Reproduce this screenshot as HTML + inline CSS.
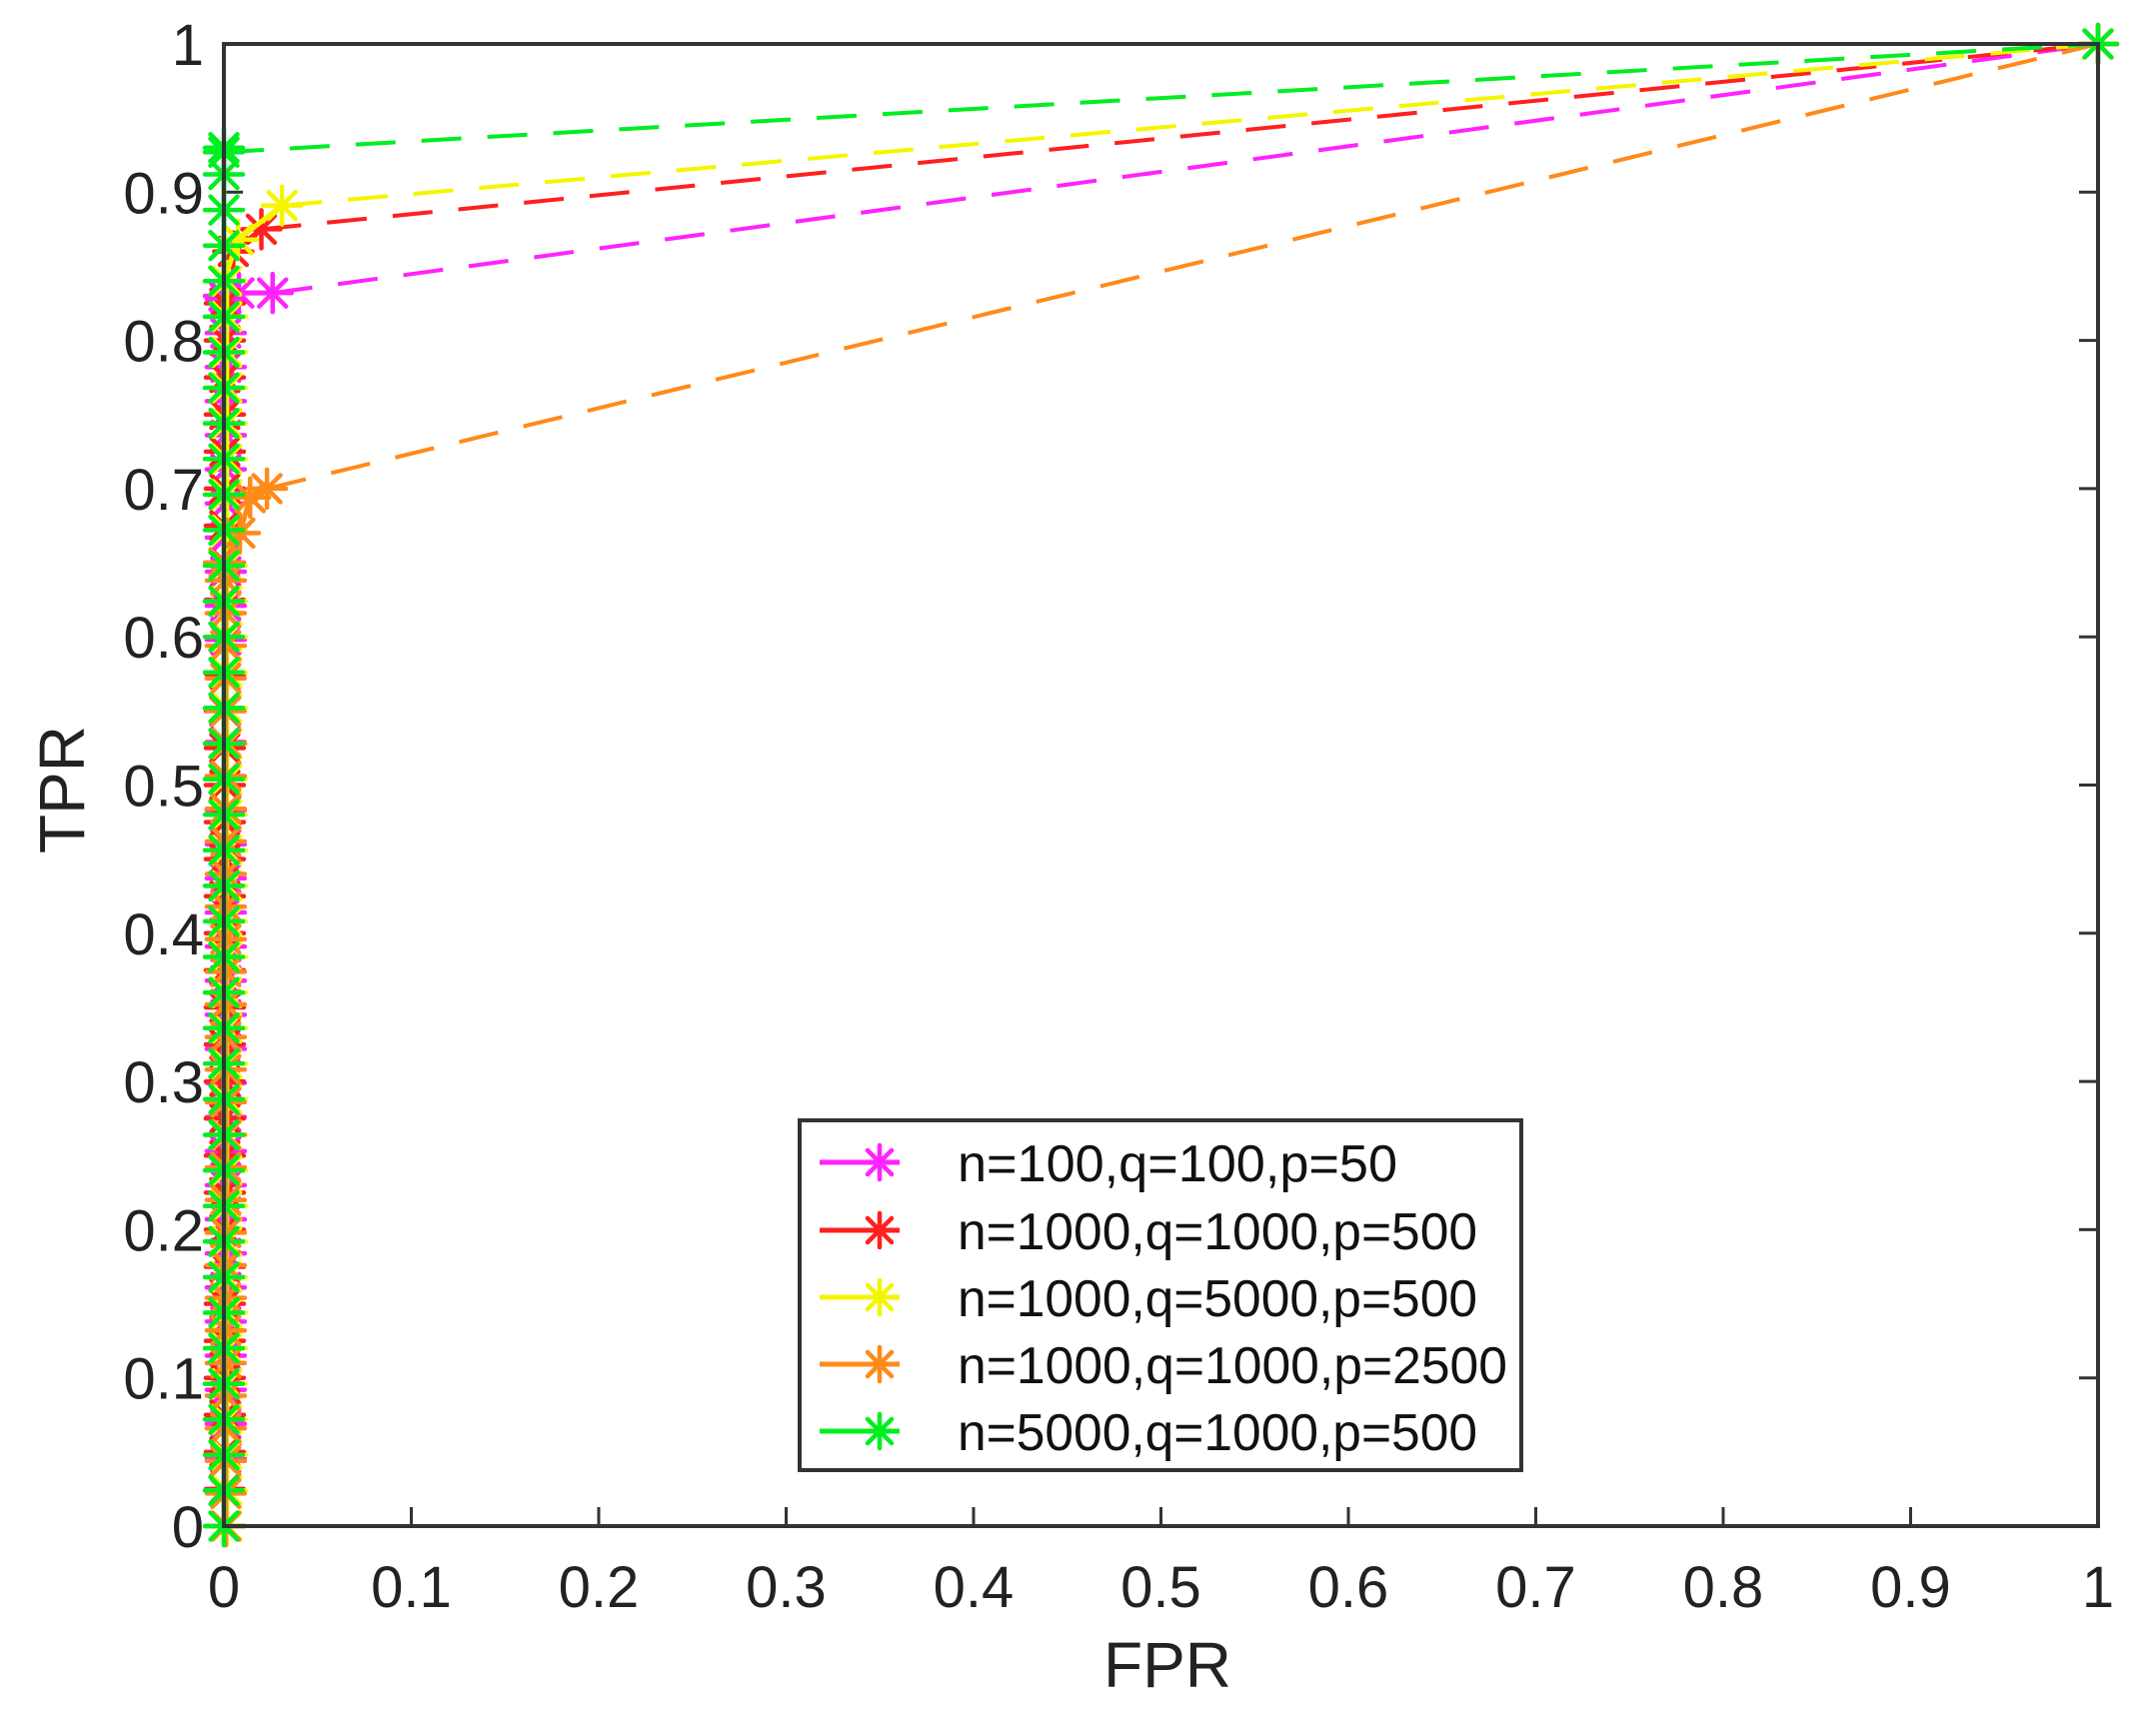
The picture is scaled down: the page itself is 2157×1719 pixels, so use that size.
<!DOCTYPE html>
<html><head><meta charset="utf-8"><style>
html,body{margin:0;padding:0;background:#fff;}
svg{display:block;font-family:"Liberation Sans",Arial,sans-serif;}
</style></head><body>
<svg id="s" width="2157" height="1719" viewBox="0 0 2157 1719" xmlns="http://www.w3.org/2000/svg">
<rect width="2157" height="1719" fill="#fff"/>
<g id="ticks" stroke="#333" stroke-width="3"></g>
<g id="lab" font-size="58" fill="#222"></g>
<g id="data"></g>
<rect x="224" y="44" width="1875" height="1483" fill="none" stroke="#333" stroke-width="4"/>
<text x="1168" y="1688" font-size="64" text-anchor="middle" fill="#222">FPR</text>
<text transform="translate(84,790) rotate(-90)" font-size="64" text-anchor="middle" fill="#222">TPR</text>
<g id="leg">
<rect x="800" y="1121" width="722" height="350" fill="#fff" stroke="#333" stroke-width="4"/>
</g>
</svg>
<script>
const L=224,T=44,W=1875,H=1483,B=1527;
const X=v=>L+v*W, Y=v=>B-v*H;
const ns="http://www.w3.org/2000/svg";
function el(p,n,a,t){const e=document.createElementNS(ns,n);for(const k in a)e.setAttribute(k,a[k]);if(t!==undefined)e.textContent=t;p.appendChild(e);return e;}
const tk=document.getElementById('ticks'),lab=document.getElementById('lab'),dg=document.getElementById('data'),lg=document.getElementById('leg');
for(let i=0;i<=10;i++){
 const v=i/10, x=X(v), y=Y(v);
 const s=i==0?'0':i==10?'1':v.toFixed(1);
 if(i>0&&i<10){
  el(tk,'line',{x1:x,y1:B,x2:x,y2:B-19});
  el(tk,'line',{x1:L,y1:y,x2:L+19,y2:y});
  el(tk,'line',{x1:L+W,y1:y,x2:L+W-19,y2:y});
 }
 el(lab,'text',{x:x,y:1608,'text-anchor':'middle'},s);
 el(lab,'text',{x:204,y:y+21,'text-anchor':'end'},s);
}
function star(g,x,y,c,r){
 r=r||19;
 for(let k=0;k<4;k++){const a=k*Math.PI/4;el(g,'line',{x1:x-r*Math.cos(a),y1:y-r*Math.sin(a),x2:x+r*Math.cos(a),y2:y+r*Math.sin(a),stroke:c,'stroke-width':4.5,'stroke-linecap':'round'});}
}
const series=[
 {c:'#ff22ff',top:0.83,end:[[0.008,0.832],[0.026,0.832]],step:0.023,off:2},
 {c:'#ff2020',top:0.84,end:[[0.005,0.86],[0.02,0.875]],step:0.025,off:1},
 {c:'#f5f500',top:0.84,end:[[0.0075,0.868],[0.031,0.891]],step:0.024,off:3},
 {c:'#ff8a1a',top:0.65,end:[[0.0085,0.670],[0.014,0.694],[0.023,0.700]],step:0.022,off:2},
 {c:'#00ee22',top:0.93,end:[[0,0.927]],step:0.024,off:0}
];
series.forEach(s=>{
 const g=el(dg,'g',{});
 const pts=[];
 for(let v=0;v<=s.top+1e-9;v+=s.step)pts.push([0.0005*s.off,v]);
 pts.push([0,s.top]);
 s.end.forEach(p=>pts.push(p));
 const last=pts[pts.length-1];
 el(g,'polyline',{points:pts.map(p=>X(p[0])+','+Y(p[1])).join(' '),fill:'none',stroke:s.c,'stroke-width':5});
 el(g,'line',{x1:X(last[0]),y1:Y(last[1]),x2:X(1),y2:Y(1),stroke:s.c,'stroke-width':4,'stroke-dasharray':'40 26'});
 pts.forEach(p=>star(g,X(p[0]),Y(p[1]),s.c));
 star(g,X(1),Y(1),s.c);
});
const names=['n=100,q=100,p=50','n=1000,q=1000,p=500','n=1000,q=5000,p=500','n=1000,q=1000,p=2500','n=5000,q=1000,p=500'];
const ry=[1163,1231,1298,1365,1432];
names.forEach((n,i)=>{
 const c=series[i].c;
 el(lg,'line',{x1:820,y1:ry[i],x2:900,y2:ry[i],stroke:c,'stroke-width':5});
 star(lg,880,ry[i],c,17);
 el(lg,'text',{x:958,y:ry[i]+19,'font-size':52,fill:'#111',textLength:n.length>19?550:(n.length>17?520:440),lengthAdjust:'spacingAndGlyphs'},n);
});
</script>
</body></html>
